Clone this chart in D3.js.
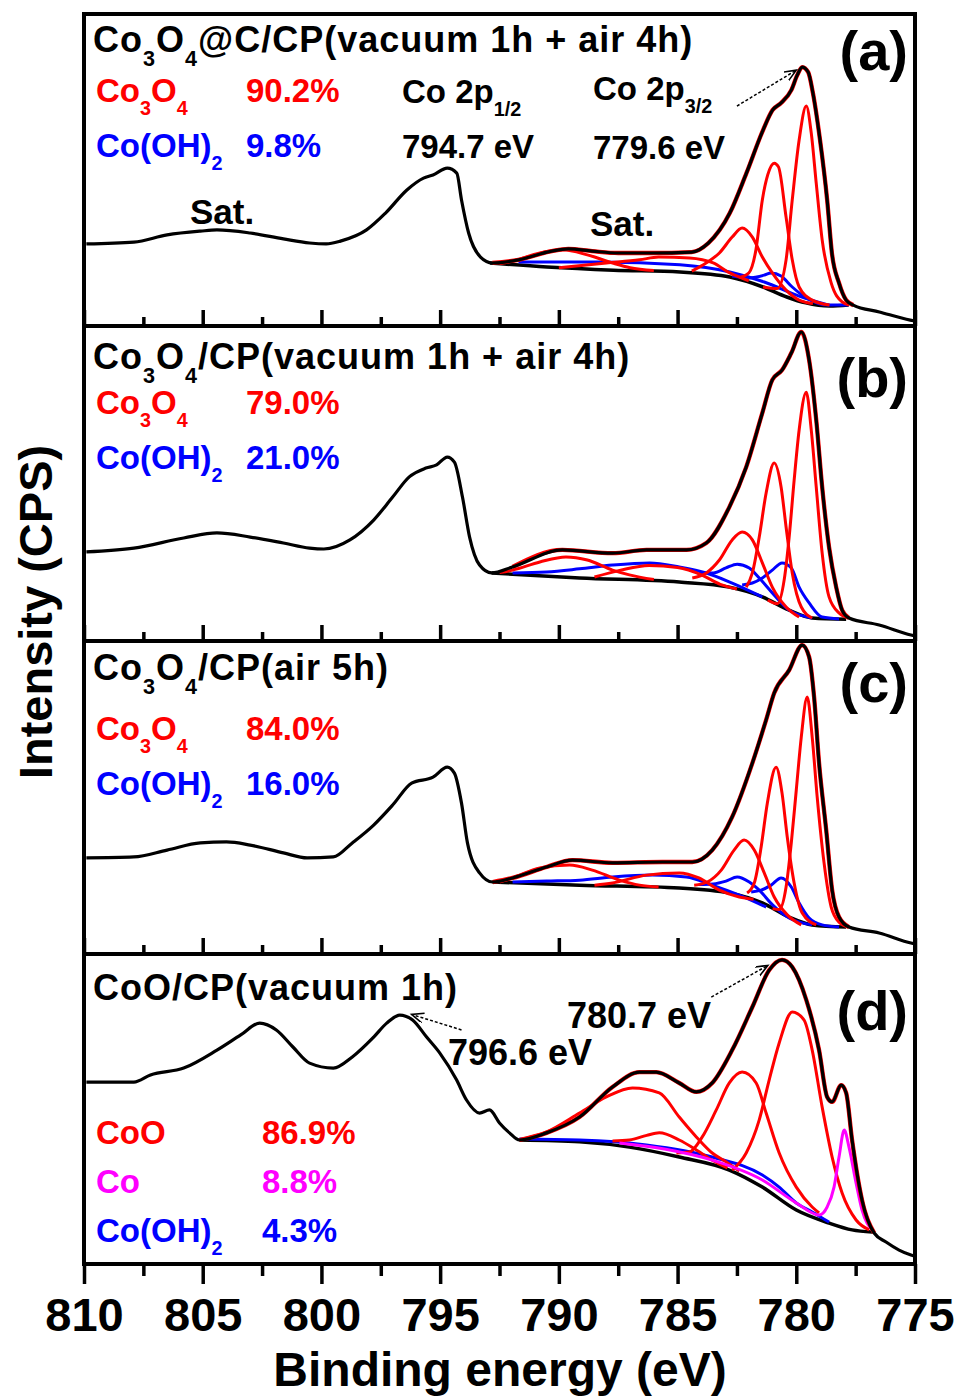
<!DOCTYPE html>
<html>
<head>
<meta charset="utf-8">
<script src="https://cdn.jsdelivr.net/npm/d3@7"></script>
<style>
body { margin: 0; background: #fff; }
text { font-family: "Liberation Sans", Arial, sans-serif; font-weight: bold; }
</style>
</head>
<body>
<div id="vis"></div>
<script>
const w = 958;
const h = 1397;

// binding energy ticks (eV)
const majorTicks = [810, 805, 800, 795, 790, 785, 780, 775];
const minorTicks = [807.5, 802.5, 797.5, 792.5, 787.5, 782.5, 777.5];

// ---- panel (a): Co3O4@C/CP(vacuum 1h + air 4h) ----
const rawA = [[809.9,26.3],[807.9,26.9],[806.5,29.2],[805.1,30.4],[804.4,30.8],[803.0,29.8],[801.6,27.9],[800.5,26.6],[799.8,26.3],[799.2,27.2],[798.1,30.8],[797.3,36.2],[796.4,43.6],[795.7,47.4],[795.3,48.4],[794.7,50.6],[794.3,49.0],[794.1,40.4],[793.8,29.8],[793.3,22.1],[792.8,20.2],[791.7,21.2],[790.3,24.0],[789.6,24.7],[788.6,24.0],[787.5,23.4],[786.1,23.4],[784.4,23.7],[783.7,26.6],[782.8,36.2],[782.1,49.0],[781.4,62.8],[781.0,69.2],[780.64,71.5],[780.21,75.6],[779.96,80.4],[779.75,83.0],[779.5,81.4],[779.3,74.7],[779.0,59.6],[778.7,40.4],[778.5,23.4],[778.2,13.8],[777.9,8.3],[777.6,6.7],[776.5,4.5],[775.2,1.9],[775.0,1.6]];
const bgA = [[792.9,20.2],[790.5,18.9],[787.7,17.9],[784.9,17.3],[782.8,15.7],[781.4,12.5],[780.4,9.3],[779.6,7.4],[778.6,6.4],[777.8,6.7]];
const redA = [
  [[781.4,12.5],[780.8,12.0],[780.43,21.2],[780.17,40.4],[779.88,59.6],[779.58,70.5],[779.37,61.9],[779.16,45.8],[778.91,27.6],[778.53,13.8],[778.07,7.7],[777.78,6.7]],
  [[782.4,15.5],[782.0,17.0],[781.7,24.4],[781.43,40.4],[781.2,48.5],[780.93,52.2],[780.75,51.0],[780.43,34.9],[780.17,21.2],[779.88,12.5],[779.33,8.3],[778.6,6.7]],
  [[784.4,17.6],[783.8,20.2],[783.24,23.4],[782.7,28.5],[782.28,31.4],[781.85,28.5],[781.43,22.1],[781.01,17.0],[780.43,11.5],[779.88,8.3],[779.3,7.2]],
  [[790.0,18.7],[788.0,20.2],[786.6,21.2],[785.8,22.1],[784.5,21.8],[783.5,20.2],[782.8,17.0],[782.0,14.5]],
  [[792.5,20.0],[791.95,20.8],[790.8,23.4],[789.85,24.4],[788.8,22.8],[787.74,20.2],[787.0,18.7],[786.0,17.8]]
];
const blueA = [
  [[782.7,16.0],[782.0,15.4],[781.35,16.3],[781.06,17.0],[780.64,16.0],[780.17,12.5],[779.58,9.0],[778.62,6.7],[777.8,6.7]],
  [[791.7,20.5],[788.3,20.5],[784.9,19.6],[782.8,17.3],[781.35,14.1],[779.88,9.6],[778.62,6.7]]
];

// ---- panel (b): Co3O4/CP(vacuum 1h + air 4h) ----
const rawB = [[809.9,28.3],[807.9,29.5],[805.8,32.7],[804.4,34.3],[803.0,33.0],[801.6,31.1],[800.5,29.5],[799.9,29.2],[798.8,32.1],[797.8,38.4],[797.0,45.7],[796.3,52.1],[795.6,54.9],[795.15,55.9],[794.7,58.4],[794.4,56.8],[794.06,45.7],[793.76,33.0],[793.34,24.1],[792.83,21.6],[791.95,23.5],[789.85,28.9],[787.74,27.9],[786.31,28.9],[784.63,28.9],[783.79,31.1],[782.82,42.5],[782.11,55.2],[781.43,72.4],[781.01,82.9],[780.6,86.0],[780.21,91.4],[779.79,98.1],[779.46,89.2],[779.16,70.2],[778.91,48.9],[778.62,29.8],[778.32,17.1],[778.07,9.8],[777.78,7.3],[776.51,5.1],[775.17,1.9],[775.0,1.6]];
const bgB = [[792.83,21.6],[789.13,20.0],[784.93,18.7],[782.82,17.1],[781.43,14.0],[780.3,9.8],[779.33,7.3],[777.9,6.9]];
const redB = [
  [[781.2,13.0],[780.8,11.8],[780.51,19.4],[780.3,33.0],[780.09,51.1],[779.88,67.0],[779.58,79.0],[779.37,67.0],[779.16,48.9],[778.91,27.9],[778.62,14.0],[778.2,8.9],[777.78,7.3]],
  [[782.11,17.1],[781.85,21.6],[781.56,33.0],[781.27,47.0],[780.93,56.5],[780.64,48.9],[780.43,36.2],[780.17,21.6],[779.79,10.8],[779.33,7.3]],
  [[784.38,20.0],[783.79,21.6],[783.24,25.7],[782.7,32.1],[782.28,34.6],[781.85,32.1],[781.43,24.8],[781.01,17.1],[780.43,10.8],[779.88,7.6]],
  [[788.5,20.3],[787.4,22.5],[786.2,24.0],[785.0,23.3],[784.0,21.0],[783.2,18.0],[782.5,16.5]],
  [[792.5,21.7],[791.95,22.5],[790.8,25.1],[789.7,26.7],[788.8,25.7],[787.74,22.5],[787.03,21.0],[786.0,19.5]]
];
const blueB = [
  [[782.28,17.8],[781.85,18.4],[781.43,20.0],[781.01,22.5],[780.6,24.8],[780.21,23.2],[779.88,17.1],[779.46,12.1],[778.91,7.6],[778.2,7.0]],
  [[784.1,21.6],[783.5,21.6],[782.96,23.2],[782.49,24.4],[781.98,23.2],[781.56,20.0],[781.0,15.2],[780.3,9.8],[779.33,7.3]],
  [[791.95,21.6],[790.52,21.9],[789.13,22.9],[787.74,24.1],[786.18,24.8],[784.93,23.5],[783.79,21.6],[782.7,18.4],[781.43,14.0]]
];

// ---- panel (c): Co3O4/CP(air 5h) ----
const rawC = [[809.9,30.7],[807.9,31.0],[806.5,33.2],[805.1,35.5],[804.0,35.8],[803.0,34.8],[801.6,32.3],[800.6,30.7],[799.5,31.0],[798.7,35.5],[797.8,41.2],[797.0,47.6],[796.2,54.6],[795.3,56.5],[794.7,59.7],[794.4,57.8],[794.1,48.2],[793.85,35.5],[793.34,25.9],[792.79,23.0],[791.95,24.3],[790.52,27.8],[789.43,30.0],[787.74,29.1],[785.64,29.4],[784.38,29.4],[783.54,33.2],[782.7,43.8],[781.85,61.0],[781.27,74.8],[780.93,83.4],[780.3,90.7],[779.75,98.7],[779.46,94.9],[779.25,82.1],[779.04,61.0],[778.74,39.6],[778.49,20.4],[778.2,11.8],[777.78,8.6],[776.51,6.7],[775.17,3.5],[775.0,3.2]];
const bgC = [[792.79,23.0],[789.13,22.0],[784.93,21.1],[782.82,19.5],[781.43,16.3],[780.3,11.8],[779.33,9.3],[777.9,8.6]];
const redC = [
  [[781.0,14.5],[780.72,14.2],[780.43,21.4],[780.21,35.5],[780.0,52.4],[779.79,69.3],[779.54,82.1],[779.33,69.3],[779.12,50.2],[778.83,29.1],[778.53,15.0],[778.2,10.2],[777.78,8.6]],
  [[782.07,19.5],[781.77,22.7],[781.48,34.2],[781.22,48.2],[780.85,59.7],[780.6,51.4],[780.38,37.4],[780.09,22.7],[779.75,13.1],[779.16,9.3]],
  [[784.3,22.0],[783.75,23.0],[783.16,26.8],[782.62,33.2],[782.2,36.4],[781.77,33.2],[781.35,25.9],[780.93,18.2],[780.38,12.5],[779.79,9.3]],
  [[788.5,22.0],[787.74,22.7],[786.31,25.2],[784.93,25.9],[784.1,24.3],[783.24,20.4],[782.4,18.2],[781.8,17.5]],
  [[792.5,23.0],[791.95,24.3],[790.8,27.5],[789.55,28.4],[788.59,26.8],[787.45,23.6],[786.6,22.0],[785.8,21.4]]
];
const blueC = [
  [[781.9,19.8],[781.48,20.4],[781.06,22.0],[780.64,24.3],[780.21,21.4],[779.88,16.3],[779.46,11.5],[778.91,9.3],[778.2,8.6]],
  [[784.1,22.2],[783.5,22.4],[782.96,23.3],[782.49,24.6],[781.98,23.0],[781.56,20.4],[781.0,15.7],[780.3,11.5],[779.33,9.3]],
  [[791.95,23.0],[790.52,23.3],[789.13,23.6],[787.74,24.6],[786.06,25.2],[784.63,24.6],[783.54,22.0],[782.4,18.8],[781.27,15.0]]
];

// ---- panel (d): CoO/CP(vacuum 1h) ----
const rawD = [[809.9,58.7],[807.9,58.7],[807.2,61.0],[805.8,63.2],[804.4,69.0],[803.4,73.9],[802.6,77.7],[801.9,75.5],[801.2,70.0],[800.5,64.8],[799.5,63.2],[798.7,66.8],[797.8,73.2],[797.25,77.7],[796.7,80.3],[796.16,78.7],[795.57,73.2],[795.02,68.1],[794.31,59.4],[793.89,52.9],[793.34,48.7],[792.92,49.7],[792.5,45.5],[792.08,42.3],[791.66,40.0],[790.52,42.3],[789.13,47.4],[787.74,57.1],[786.6,61.9],[785.9,61.9],[784.93,58.4],[784.21,55.5],[783.54,58.4],[782.7,69.0],[781.85,82.9],[781.14,94.8],[780.6,98.1],[780.17,95.8],[779.58,85.2],[779.04,69.0],[778.7,53.9],[778.49,52.3],[778.11,57.7],[777.9,55.2],[777.65,40.0],[777.23,20.6],[776.72,10.0],[776.22,7.1],[775.67,4.5],[775.17,2.9],[775.0,2.5]];
const bgD = [[791.66,40.0],[789.13,39.4],[787.03,37.7],[784.93,34.5],[782.82,30.3],[781.43,24.8],[780.0,17.4],[778.62,13.2],[777.65,11.0],[776.8,10.3]];
const redD = [
  [[782.7,30.3],[782.11,35.8],[781.56,46.5],[781.14,59.4],[780.72,71.3],[780.17,81.3],[779.67,78.7],[779.33,69.0],[778.91,50.6],[778.49,34.5],[778.07,22.9],[777.48,14.2],[776.93,11.0]],
  [[785.05,35.8],[784.51,36.1],[783.96,41.0],[783.37,49.7],[782.82,58.4],[782.28,61.9],[781.69,58.4],[781.27,48.7],[780.72,35.8],[780.0,24.8],[779.33,18.4],[779.04,16.5]],
  [[791.66,40.0],[790.52,42.6],[789.13,48.7],[788.0,53.9],[786.9,56.8],[785.77,55.2],[784.93,47.4],[784.21,41.0],[783.54,35.8],[782.95,32.9],[782.4,30.0]],
  [[787.74,39.7],[787.03,40.0],[786.3,41.5],[785.77,42.3],[784.93,40.0],[784.21,36.8],[783.54,33.5],[782.9,31.0]]
];
const magentaD = [
  [[787.45,39.0],[785.5,37.0],[783.54,33.5],[781.43,27.1],[780.0,19.7],[779.04,15.8],[778.7,18.4],[778.41,24.8],[778.2,34.5],[777.98,43.2],[777.78,37.7],[777.48,26.1],[777.23,17.4],[776.8,11.0]]
];
const blueD = [
  [[791.66,40.3],[789.13,40.0],[786.31,38.4],[783.54,34.5],[781.43,28.7],[780.72,24.8],[780.0,19.7],[779.33,16.8],[778.62,13.5]]
];

// fit windows (eV) where the measured data sits under the fitted envelope
const fitWindows = [[792.8, 777.6], [792.8, 777.6], [792.8, 777.6], [791.7, 776.7]];

const panelTags = ['(a)', '(b)', '(c)', '(d)'];
const panelTitles = [
  'Co{3}O{4}@C/CP(vacuum 1h + air 4h)',
  'Co{3}O{4}/CP(vacuum 1h + air 4h)',
  'Co{3}O{4}/CP(air 5h)',
  'CoO/CP(vacuum 1h)'
];
const phaseNames = [
  ['Co{3}O{4}', 'Co(OH){2}'],
  ['Co{3}O{4}', 'Co(OH){2}'],
  ['Co{3}O{4}', 'Co(OH){2}'],
  ['CoO', 'Co', 'Co(OH){2}']
];
const phaseShares = [
  ['90.2%', '9.8%'],
  ['79.0%', '21.0%'],
  ['84.0%', '16.0%'],
  ['86.9%', '8.8%', '4.3%']
];

const red = '#ff0000', blue = '#0000ff', magenta = '#ff00ff';

const panels = [
  {top: 14, bottom: 326, raw: rawA, bg: bgA, comps: [[blueA, blue], [redA, red]]},
  {top: 326, bottom: 641, raw: rawB, bg: bgB, comps: [[blueB, blue], [redB, red]]},
  {top: 641, bottom: 954, raw: rawC, bg: bgC, comps: [[blueC, blue], [redC, red]]},
  {top: 954, bottom: 1264, raw: rawD, bg: bgD, comps: [[blueD, blue], [redD, red], [magentaD, magenta]]}
];

const left = 84, right = 915;

const svg = d3.select('#vis')
    .append('svg')
    .attr('width', w)
    .attr('height', h);

const defs = svg.append('defs');
defs.append('marker')
    .attr('id', 'head')
    .attr('markerUnits', 'userSpaceOnUse')
    .attr('markerWidth', 16)
    .attr('markerHeight', 14)
    .attr('refX', 12)
    .attr('refY', 5)
    .attr('orient', 'auto')
    .append('path')
    .attr('d', 'M0,0 L12,5 L0,10')
    .attr('fill', 'none')
    .attr('stroke', '#000')
    .attr('stroke-width', 1.6);

const x = d3.scaleLinear()
    .domain([810, 775])
    .range([left, right]);

// text with {subscript} parts
function rich(g, px, py, str, size, color, spacing) {
    const t = g.append('text')
        .attr('x', px)
        .attr('y', py)
        .attr('font-size', size)
        .attr('fill', color)
        .attr('letter-spacing', spacing || 0);
    const drop = size * 0.38;
    let low = false;
    str.split(/(\{[^}]*\})/).filter(s => s.length).forEach(s => {
        const sub = s[0] === '{';
        const sp = t.append('tspan').text(sub ? s.slice(1, -1) : s);
        if (sub) {
            sp.attr('font-size', size * 0.6);
            if (!low) { sp.attr('dy', drop); low = true; }
        } else if (low) {
            sp.attr('dy', -drop);
            low = false;
        }
    });
    return t;
}

panels.forEach((p, i) => {
    const y = d3.scaleLinear().domain([0, 100]).range([p.bottom, p.top]);
    const line = d3.line()
        .x(d => x(d[0]))
        .y(d => y(d[1]))
        .curve(d3.curveMonotoneX);

    defs.append('clipPath').attr('id', 'clip' + i)
        .append('rect')
        .attr('x', left).attr('y', p.top)
        .attr('width', right - left).attr('height', p.bottom - p.top);

    const g = svg.append('g').attr('clip-path', `url(#clip${i})`);

    g.append('path')
        .attr('d', line(p.bg))
        .attr('fill', 'none')
        .attr('stroke', '#000')
        .attr('stroke-width', 3.5);

    p.comps.forEach(([set, col]) => {
        g.selectAll(null)
            .data(set)
            .join('path')
            .attr('d', line)
            .attr('fill', 'none')
            .attr('stroke', col)
            .attr('stroke-width', 3)
            .attr('stroke-linejoin', 'round');
    });

    // measured data in the fitted window shows as a red fringe under the envelope
    const win = fitWindows[i];
    const inFit = p.raw.filter(d => d[0] <= win[0] && d[0] >= win[1]);
    g.append('path')
        .attr('d', line(inFit))
        .attr('fill', 'none')
        .attr('stroke', red)
        .attr('stroke-width', 4.3);

    g.append('path')
        .attr('d', line(p.raw))
        .attr('fill', 'none')
        .attr('stroke', '#000')
        .attr('stroke-width', 3.2)
        .attr('stroke-linejoin', 'round');

    // ticks on the lower edge of each panel
    const last = i === panels.length - 1;
    const ax = svg.append('g')
        .attr('class', 'axis')
        .attr('transform', `translate(0,${p.bottom})`)
        .call(d3.axisBottom(x)
            .tickValues(majorTicks)
            .tickSizeInner(last ? 20 : -16)
            .tickSizeOuter(0)
            .tickPadding(14)
            .tickFormat(last ? d3.format('d') : () => ''));
    svg.append('g')
        .attr('class', 'axis')
        .attr('transform', `translate(0,${p.bottom})`)
        .call(d3.axisBottom(x)
            .tickValues(minorTicks)
            .tickSizeInner(last ? 12 : -9)
            .tickSizeOuter(0)
            .tickFormat(() => ''));
    if (last) {
        ax.selectAll('.tick text')
            .attr('font-size', 47)
            .attr('font-family', '"Liberation Sans", Arial, sans-serif')
            .attr('font-weight', 'bold')
            .attr('fill', '#000');
    }
});

svg.selectAll('.axis .domain').remove();
svg.selectAll('.axis .tick line')
    .attr('stroke', '#000')
    .attr('stroke-width', 3.5);

// frame and panel separators
svg.append('rect')
    .attr('x', left)
    .attr('y', panels[0].top)
    .attr('width', right - left)
    .attr('height', panels[3].bottom - panels[0].top)
    .attr('fill', 'none')
    .attr('stroke', '#000')
    .attr('stroke-width', 4);
svg.selectAll('line.sep')
    .data(panels.slice(0, 3))
    .join('line')
    .attr('class', 'sep')
    .attr('x1', left).attr('x2', right)
    .attr('y1', d => d.bottom).attr('y2', d => d.bottom)
    .attr('stroke', '#000')
    .attr('stroke-width', 4);

// panel texts
const txt = svg.append('g');
const titleY = [52, 369, 680, 1000];
const tagY = [70, 397, 702, 1030];
const legendY = [[102, 157], [414, 469], [740, 795], [1144, 1193, 1242]];
const legendCol = [[red, blue], [red, blue], [red, blue], [red, magenta, blue]];

panels.forEach((p, i) => {
    rich(txt, 93, titleY[i], panelTitles[i], 36, '#000', 1);
    txt.append('text')
        .attr('x', 908)
        .attr('y', tagY[i])
        .attr('text-anchor', 'end')
        .attr('font-size', 56)
        .text(panelTags[i]);
    phaseNames[i].forEach((name, k) => {
        rich(txt, 96, legendY[i][k], name, 33, legendCol[i][k]);
        txt.append('text')
            .attr('x', i === 3 ? 262 : 246)
            .attr('y', legendY[i][k])
            .attr('font-size', 33)
            .attr('fill', legendCol[i][k])
            .text(phaseShares[i][k]);
    });
});

rich(txt, 402, 103, 'Co 2p{1/2}', 33, '#000');
rich(txt, 402, 158, '794.7 eV', 33, '#000');
rich(txt, 593, 100, 'Co 2p{3/2}', 33, '#000');
rich(txt, 593, 159, '779.6 eV', 33, '#000');
rich(txt, 190, 224, 'Sat.', 35, '#000');
rich(txt, 590, 236, 'Sat.', 35, '#000');
rich(txt, 567, 1028, '780.7 eV', 36, '#000');
rich(txt, 448, 1065, '796.6 eV', 36, '#000');

// dotted arrows pointing to peak maxima
const arrows = [
  {panel: 0, from: [782.5, 70.5], to: [780.0, 82.0]},
  {panel: 3, from: [783.58, 86.1], to: [781.2, 96.3]},
  {panel: 3, from: [794.1, 75.5], to: [796.2, 80.5]}
];
arrows.forEach(a => {
    const p = panels[a.panel];
    const y = d3.scaleLinear().domain([0, 100]).range([p.bottom, p.top]);
    svg.append('line')
        .attr('x1', x(a.from[0])).attr('y1', y(a.from[1]))
        .attr('x2', x(a.to[0])).attr('y2', y(a.to[1]))
        .attr('stroke', '#000')
        .attr('stroke-width', 1.5)
        .attr('stroke-dasharray', '3,2')
        .attr('marker-end', 'url(#head)');
});

// axis titles
svg.append('text')
    .attr('x', 500)
    .attr('y', 1386)
    .attr('text-anchor', 'middle')
    .attr('font-size', 48)
    .text('Binding energy (eV)');

svg.append('text')
    .attr('transform', 'translate(52,612) rotate(-90)')
    .attr('text-anchor', 'middle')
    .attr('font-size', 47)
    .text('Intensity (CPS)');
</script>
</body>
</html>
